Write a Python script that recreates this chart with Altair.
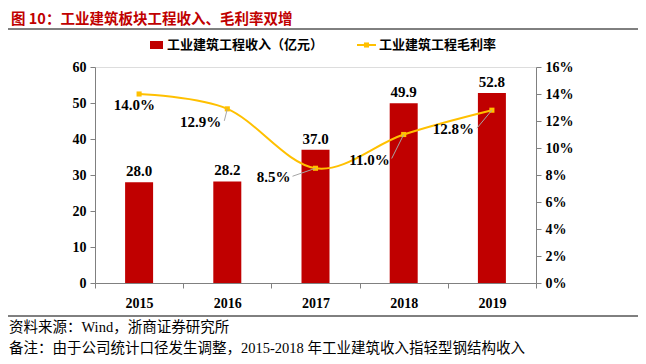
import altair as alt
import pandas as pd

years = ["2015", "2016", "2017", "2018", "2019"]
revenue = [28.0, 28.2, 37.0, 49.9, 52.8]
margin = [14.0, 12.9, 8.5, 11.0, 12.8]
left_ticks = [0, 10, 20, 30, 40, 50, 60]
right_ticks = [0, 2, 4, 6, 8, 10, 12, 14, 16]

title_text = "图 10：工业建筑板块工程收入、毛利率双增"
legend_bar = "工业建筑工程收入（亿元）"
legend_line = "工业建筑工程毛利率"
source_text = "资料来源：Wind，浙商证券研究所"
note_text = "备注：由于公司统计口径发生调整，2015-2018 年工业建筑收入指轻型钢结构收入"

df = pd.DataFrame({"year": years, "revenue": revenue, "margin": margin})
one = pd.DataFrame({"k": [0]})

RED = "#c00000"
GOLD = "#ffc000"
SERIF = "Liberation Serif"
CJK = "Noto Sans CJK SC"
MIXED = "Liberation Serif, Noto Sans CJK SC"
AX = "#808080"

# label placement styles (pixel offsets from each point): (dx of right edge, dy, leader end dx, leader end dy)
label_style = {
    "2015": (16, 11, None, None),
    "2016": (-6, 13, -3, 12),
    "2017": (-25, 9, -23, 8),
    "2018": (-14, 25, -12, 24),
    "2019": (-18, 19, -15, 18),
}

xenc = alt.X("year:N", sort=years, title=None,
             scale=alt.Scale(paddingInner=0, paddingOuter=0),
             axis=alt.Axis(labelAngle=0, labelFont=SERIF, labelFontWeight="bold",
                           labelFontSize=14, labelColor="black", labelPadding=8,
                           tickBand="extent", tickSize=5, tickColor=AX,
                           domainColor=AX, grid=False))

rev_axis = alt.Axis(values=left_ticks, orient="left", grid=False, labelOverlap=False,
                    labelFont=SERIF, labelFontWeight="bold", labelFontSize=14,
                    labelColor="black", tickSize=5, tickColor=AX, domainColor=AX,
                    labelPadding=4)
mar_axis = alt.Axis(values=right_ticks, orient="right", grid=False, labelOverlap=False,
                    labelExpr="datum.value + '%'",
                    labelFont=SERIF, labelFontWeight="bold", labelFontSize=14,
                    labelColor="black", tickSize=5, tickColor=AX, domainColor=AX,
                    labelPadding=4)
yrev = alt.Y("revenue:Q", title=None, scale=alt.Scale(domain=[0, 60], nice=False), axis=rev_axis)
ymar = alt.Y("margin:Q", title=None, scale=alt.Scale(domain=[0, 16], nice=False), axis=mar_axis)

base = alt.Chart(df)

bars = base.mark_bar(color=RED, size=28).encode(x=xenc, y=yrev)
bar_text = base.mark_text(dy=-11, font=SERIF, fontWeight="bold", fontSize=15,
                          color="black", baseline="middle").encode(
    x=xenc, y=yrev, text=alt.Text("revenue:Q", format=".1f"))
bar_layer = alt.layer(bars, bar_text)

line = base.mark_line(color=GOLD, strokeWidth=2, interpolate="cardinal").encode(x=xenc, y=ymar)
pts = base.mark_square(color=GOLD, size=26, opacity=1).encode(x=xenc, y=ymar)

line_layers = [line, pts]
for yr, (ldx, ldy, ex, ey) in label_style.items():
    sub = base.transform_filter(alt.datum.year == yr)
    if ex is not None:
        line_layers.append(
            sub.mark_rule(color="#a6a6a6", strokeWidth=1, x2Offset=ex, y2Offset=ey).encode(
                x=alt.X("year:N", sort=years, bandPosition=0.5, title=None,
                        scale=alt.Scale(paddingInner=0, paddingOuter=0),
                        axis=xenc.to_dict().get("axis")),
                x2=alt.X2("year", bandPosition=0.5),
                y=ymar,
                y2=alt.Y2("margin"),
            ))
    line_layers.append(
        sub.transform_calculate(lbl="format(datum.margin, '.1f') + '%'")
        .mark_text(align="right", baseline="middle", dx=ldx, dy=ldy, font=SERIF,
                   fontWeight="bold", fontSize=15, color="black").encode(
            x=xenc, y=ymar, text=alt.Text("lbl:N"),
        ))
line_layer = alt.layer(*line_layers)

ann = alt.Chart(one)
deco = [
    ann.mark_text(align="left", baseline="middle", font=CJK, fontWeight="bold",
                  fontSize=14.5, color=RED).encode(
        x=alt.value(-84), y=alt.value(-47), text=alt.value(title_text)),
    ann.mark_rule(color="black", strokeWidth=1).encode(
        x=alt.value(-87), x2=alt.value(547), y=alt.value(-38)),
    ann.mark_rect(color=RED).encode(
        x=alt.value(55), x2=alt.value(68), y=alt.value(-26), y2=alt.value(-18)),
    ann.mark_text(align="left", baseline="middle", font=CJK, fontWeight="bold",
                  fontSize=13, color="black").encode(
        x=alt.value(72), y=alt.value(-22), text=alt.value(legend_bar)),
    ann.mark_rule(color=GOLD, strokeWidth=2).encode(
        x=alt.value(262), x2=alt.value(281), y=alt.value(-22)),
    ann.mark_square(color=GOLD, size=26, opacity=1).encode(
        x=alt.value(271.5), y=alt.value(-22)),
    ann.mark_text(align="left", baseline="middle", font=CJK, fontWeight="bold",
                  fontSize=13, color="black").encode(
        x=alt.value(284), y=alt.value(-22), text=alt.value(legend_line)),
    ann.mark_rule(color="black", strokeWidth=1).encode(
        x=alt.value(-87), x2=alt.value(547), y=alt.value(249)),
    ann.mark_text(align="left", baseline="middle", font=MIXED, fontSize=14.5,
                  color="black").encode(
        x=alt.value(-86), y=alt.value(261), text=alt.value(source_text)),
    ann.mark_text(align="left", baseline="middle", font=MIXED, fontSize=14.5,
                  color="black").encode(
        x=alt.value(-86), y=alt.value(282), text=alt.value(note_text)),
]

chart = alt.layer(bar_layer, line_layer, *deco).resolve_scale(y="independent").properties(
    width=441, height=216,
    autosize=alt.AutoSizeParams(type="none"),
    padding={"left": 87, "top": 59, "right": 102, "bottom": 73},
).configure_view(stroke=None).configure(background="white")

chart.save("out.html", embed_options={"renderer": "svg", "actions": False})
